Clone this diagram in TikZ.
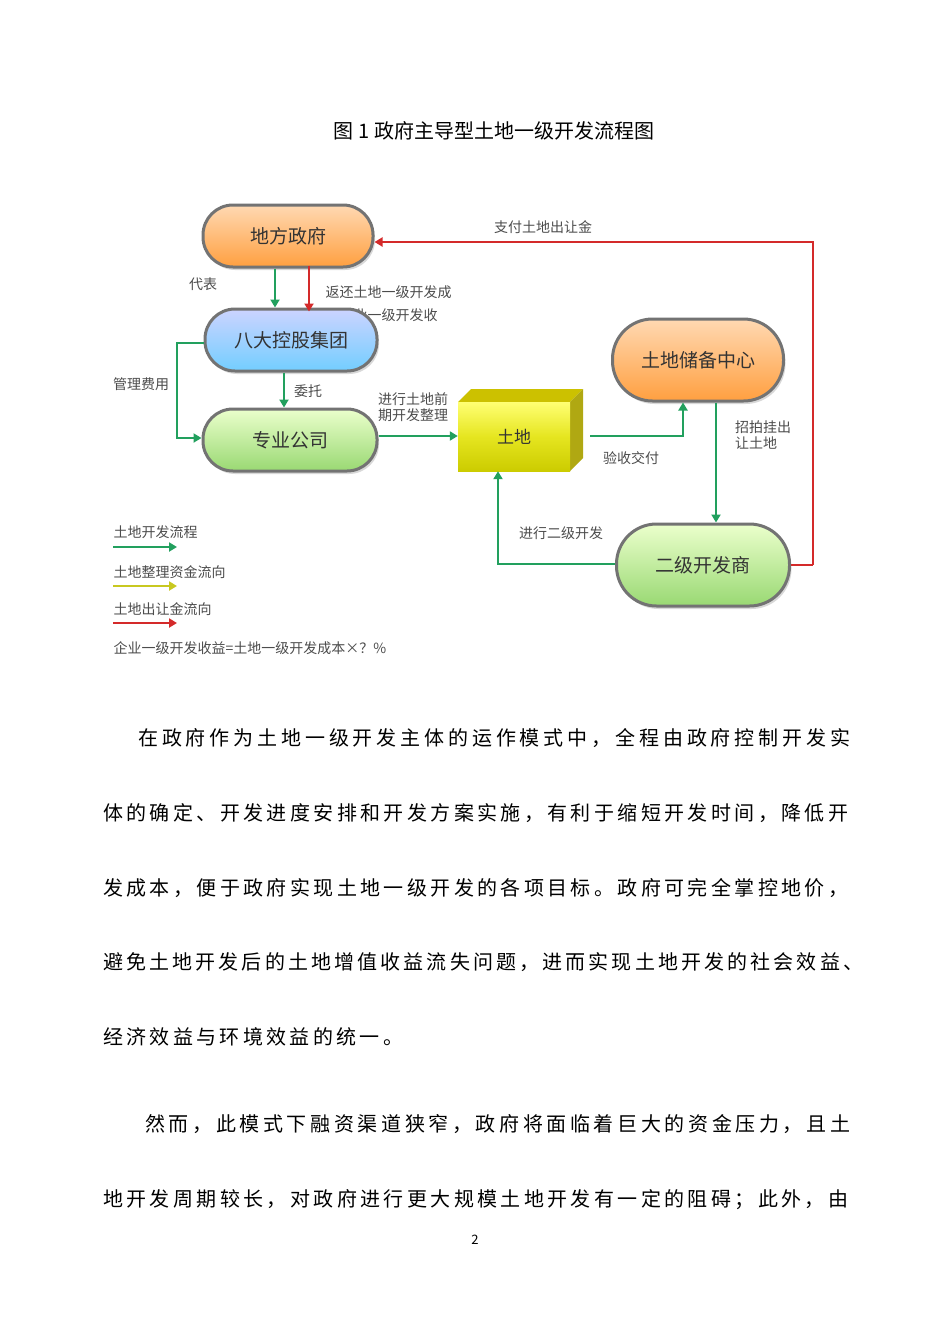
\documentclass[tikz,border=0pt]{standalone}
\usepackage{fontspec}
\setmainfont{Noto Sans CJK SC}
\usetikzlibrary{arrows.meta,shadows}
\definecolor{gk}{HTML}{22A05E}
\definecolor{rk}{HTML}{D42A2A}
\definecolor{yk}{HTML}{C8C820}
\def\spread#1{#1\spreadnext}
\def\spreadnext#1{\ifx#1\relax\else\hfil#1\expandafter\spreadnext\fi}
\newcommand\pline[4]{\node[anchor=base west,inner sep=0pt,font=\fontsize{20}{20}\selectfont] (#1) at #2 {\hbox to #3{\spread#4\relax}};}
\begin{document}
\begin{tikzpicture}[x=1pt,y=-1pt,
  pill/.style={rounded corners=30pt,draw=black!55,line width=3pt,minimum height=62pt,font=\fontsize{19}{19}\selectfont,text=black!80,drop shadow={opacity=0.3,shadow xshift=2pt,shadow yshift=-3pt}},
  orangep/.style={pill,top color=orange!30,bottom color=orange!75},
  bluep/.style={pill,top color=cyan!15!blue!20,bottom color=blue!35!cyan!55},
  greenp/.style={pill,top color=green!40!yellow!20,bottom color=green!45!olive!55},
  lab/.style={font=\fontsize{14}{16}\selectfont,text=black!70,align=left},
  garr/.style={draw=gk,line width=2.5pt,-{Triangle[length=8pt,width=9pt]}},
  rarr/.style={draw=rk,line width=2.5pt,-{Triangle[length=8pt,width=9pt]}},
  yarr/.style={draw=yk,line width=2.5pt,-{Triangle[length=8pt,width=9pt]}},
  rl/.style={draw=rk,line width=2.5pt}]
\useasboundingbox (0,0) rectangle (950,1344);
\fill[white] (0,0) rectangle (950,1344);
\node[font=\fontsize{20}{20}\selectfont] (title) at (494,131) {图 1 政府主导型土地一级开发流程图};
\node[lab,anchor=west] (l2) at (322,292) {返还土地一级开发成};
\node[lab,anchor=west] (l2b) at (322,315) {本企业一级开发收};
\node[orangep,minimum width=170pt] (gov) at (288,236) {地方政府};
\node[bluep,minimum width=172pt] (bd) at (291,340) {八大控股集团};
\node[greenp,minimum width=174pt] (zy) at (290,440) {专业公司};
\node[orangep,minimum width=171pt,minimum height=82pt,rounded corners=40pt] (cb) at (698,360) {土地储备中心};
\node[greenp,minimum width=173pt,minimum height=82pt,rounded corners=40pt] (ej) at (703,565) {二级开发商};
% cube
\fill[yellow!55!olive] (458,402) -- (471,389) -- (583,389) -- (570,402) -- cycle;
\fill[yellow!45!olive!90!black] (570,402) -- (583,389) -- (583,458) -- (570,471) -- cycle;
\node[minimum width=112pt,minimum height=69pt,top color=yellow!55,bottom color=yellow!60!olive,font=\fontsize{17}{17}\selectfont,text=black!80] (td) at (514,436.5) {土地};
% connectors
\coordinate (r1) at (813,565);
\coordinate (r2) at (813,242);
\draw[rl] (ej.east) -- (r1);
\draw[rarr] (r1) -- (r2) -- (gov.east|-r2);
\node[lab] (l1) at (543,227) {支付土地出让金};
\draw[garr] (gov.south-|275,0) -- (bd.north-|275,0);
\draw[rarr] ([yshift=3pt]gov.south-|309,0) -- ([yshift=-4pt]bd.north-|309,0);
\node[lab] (l3) at (203,284) {代表};
\coordinate (m1) at (177,343);
\coordinate (m2) at (177,438);
\draw[garr] (bd.west|-m1) -- (m1) -- (m2) -- (zy.west|-m2);
\node[lab] (l4) at (141,384) {管理费用};
\draw[garr] (bd.south-|284,0) -- (zy.north-|284,0);
\node[lab] (l5) at (308,391) {委托};
\draw[garr] (zy.east|-0,436) -- (td.west|-0,436);
\node[lab] (l6) at (413,407) {进行土地前\\期开发整理};
\coordinate (s1) at (683,436);
\draw[garr] (590,436) -- (s1) -- (s1|-cb.south);
\node[lab] (l7) at (631,458) {验收交付};
\draw[garr] (cb.south-|716,0) -- (ej.north-|716,0);
\node[lab] (l8) at (763,435) {招拍挂出\\让土地};
\coordinate (e1) at (498,564);
\draw[garr] (ej.west|-e1) -- (e1) -- (td.south-|e1);
\node[lab] (l9) at (561,533) {进行二级开发};
% legend
\node[lab,anchor=west] (g1) at (110,532) {土地开发流程};
\coordinate (ga) at (113,547); \coordinate (gb) at (177,547);
\draw[garr] (ga) -- (gb);
\node[lab,anchor=west] (g2) at (110,572) {土地整理资金流向};
\coordinate (ya) at (113,586); \coordinate (yb) at (177,586);
\draw[yarr] (ya) -- (yb);
\node[lab,anchor=west] (g3) at (110,609) {土地出让金流向};
\coordinate (rla) at (113,623); \coordinate (rlb) at (177,623);
\draw[rarr] (rla) -- (rlb);
\node[lab,anchor=west] (g4) at (110,648) {企业一级开发收益=土地一级开发成本×？\%};
% paragraph
\pline{p1}{(138,745)}{712pt}{在政府作为土地一级开发主体的运作模式中，全程由政府控制开发实}
\pline{p2}{(103,820)}{745pt}{体的确定、开发进度安排和开发方案实施，有利于缩短开发时间，降低开}
\pline{p3}{(103,895)}{745pt}{发成本，便于政府实现土地一级开发的各项目标。政府可完全掌控地价，}
\pline{p4}{(103,969)}{760pt}{避免土地开发后的土地增值收益流失问题，进而实现土地开发的社会效益、}
\pline{p5}{(103,1044)}{300pt}{经济效益与环境效益的统一。}
\pline{p6}{(145,1131)}{705pt}{然而，此模式下融资渠道狭窄，政府将面临着巨大的资金压力，且土}
\pline{p7}{(103,1206)}{745pt}{地开发周期较长，对政府进行更大规模土地开发有一定的阻碍；此外，由}
\node[font=\fontsize{13}{13}\selectfont] (pg) at (475,1240) {2};
\end{tikzpicture}
\end{document}
